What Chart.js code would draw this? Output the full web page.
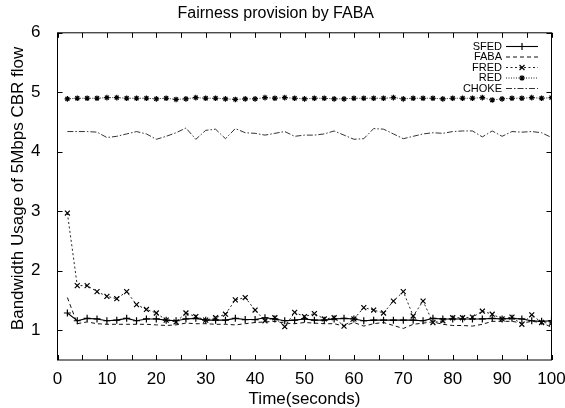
<!DOCTYPE html>
<html>
<head>
<meta charset="utf-8">
<script src="https://cdn.jsdelivr.net/npm/chart.js@4/dist/chart.umd.min.js"></script>
<style>
  html, body { margin: 0; padding: 0; background: #fff; }
  #wrap { width: 565px; height: 408px; }
</style>
</head>
<body>
<div id="wrap"><canvas id="c" width="565" height="408"></canvas></div>
<script>
// Sample times (seconds)
const times = [2, 4, 6, 8, 10, 12, 14, 16, 18, 20, 22, 24, 26, 28, 30, 32, 34, 36, 38, 40, 42, 44, 46, 48, 50,
               52, 54, 56, 58, 60, 62, 64, 66, 68, 70, 72, 74, 76, 78, 80, 82, 84, 86, 88, 90, 92, 94, 96, 98, 100];

// Bandwidth usage of the 5Mbps CBR flow under each queue discipline
const sfed = [1.29, 1.16, 1.20, 1.19, 1.16, 1.17, 1.20, 1.16, 1.19, 1.19, 1.17, 1.16, 1.19, 1.20, 1.17, 1.17, 1.17, 1.20, 1.18, 1.18, 1.21, 1.19, 1.16, 1.17, 1.19,
              1.17, 1.17, 1.19, 1.20, 1.19, 1.16, 1.17, 1.17, 1.17, 1.17, 1.17, 1.16, 1.20, 1.19, 1.19, 1.19, 1.19, 1.19, 1.20, 1.19, 1.20, 1.19, 1.16, 1.15, 1.16];
const faba = [1.55, 1.11, 1.14, 1.11, 1.10, 1.10, 1.10, 1.10, 1.10, 1.09, 1.08, 1.09, 1.12, 1.11, 1.11, 1.10, 1.10, 1.09, 1.11, 1.13, 1.14, 1.15, 1.12, 1.11, 1.13,
              1.12, 1.11, 1.11, 1.07, 1.13, 1.07, 1.11, 1.13, 1.08, 1.03, 1.10, 1.12, 1.14, 1.10, 1.08, 1.08, 1.07, 1.10, 1.15, 1.15, 1.15, 1.12, 1.15, 1.13, 1.05];
const fred = [2.97, 1.75, 1.75, 1.65, 1.57, 1.53, 1.65, 1.43, 1.35, 1.29, 1.17, 1.14, 1.29, 1.23, 1.17, 1.21, 1.27, 1.51, 1.55, 1.34, 1.16, 1.21, 1.06, 1.30, 1.23,
              1.28, 1.19, 1.21, 1.07, 1.19, 1.38, 1.34, 1.29, 1.49, 1.65, 1.24, 1.49, 1.13, 1.16, 1.21, 1.21, 1.22, 1.32, 1.27, 1.19, 1.22, 1.10, 1.26, 1.13, 1.12];
const red  = [4.89, 4.90, 4.90, 4.90, 4.91, 4.91, 4.90, 4.90, 4.90, 4.89, 4.90, 4.88, 4.89, 4.91, 4.90, 4.90, 4.89, 4.88, 4.89, 4.89, 4.91, 4.90, 4.91, 4.90, 4.89,
              4.90, 4.90, 4.89, 4.89, 4.90, 4.90, 4.90, 4.90, 4.91, 4.89, 4.90, 4.90, 4.90, 4.89, 4.90, 4.90, 4.90, 4.91, 4.87, 4.89, 4.90, 4.90, 4.91, 4.90, 4.91];
const choke = [4.34, 4.34, 4.34, 4.33, 4.24, 4.26, 4.30, 4.34, 4.30, 4.21, 4.26, 4.32, 4.40, 4.21, 4.36, 4.38, 4.22, 4.39, 4.32, 4.31, 4.28, 4.31, 4.34, 4.26, 4.28,
               4.28, 4.30, 4.35, 4.28, 4.21, 4.22, 4.39, 4.38, 4.30, 4.22, 4.26, 4.30, 4.32, 4.31, 4.34, 4.35, 4.35, 4.25, 4.35, 4.26, 4.34, 4.33, 4.34, 4.32, 4.24];

const xTickValues = [0, 10, 20, 30, 40, 50, 60, 70, 80, 90, 100];
const yTickValues = [1, 2, 3, 4, 5, 6];

const FONT = "'Liberation Sans', Arial, Helvetica, sans-serif";

function points(values) {
  return times.map((t, i) => ({ x: t, y: values[i] }));
}

const seriesStyles = [
  { label: 'SFED',  data: sfed,  dash: [],             width: 1.1, pointStyle: 'cross',    radius: 3.5, color: '#000' },
  { label: 'FABA',  data: faba,  dash: [4, 3],         width: 1,   pointStyle: false,      radius: 0,   color: '#111' },
  { label: 'FRED',  data: fred,  dash: [2, 2.5],       width: 1,   pointStyle: 'crossRot', radius: 3.5, color: '#222' },
  { label: 'RED',   data: red,   dash: [1, 1.5],       width: 1,   pointStyle: 'star',     radius: 2.8, color: '#222' },
  { label: 'CHOKE', data: choke, dash: [6, 2, 1.5, 2], width: 1,   pointStyle: false,      radius: 0,   color: '#333' }
];

const datasets = seriesStyles.map(s => ({
  label: s.label,
  data: points(s.data),
  borderColor: s.color,
  backgroundColor: s.color,
  borderWidth: s.width,
  borderDash: s.dash,
  pointStyle: s.pointStyle,
  pointRadius: s.radius,
  pointBorderWidth: 1.2,
  pointBorderColor: '#000',
  pointBackgroundColor: '#000',
  tension: 0,
  fill: false
}));

// Frame with inward tick marks on all four sides
const framePlugin = {
  id: 'frame',
  beforeDatasetsDraw(chart) {
    const { ctx, chartArea: a, scales } = chart;
    ctx.save();
    ctx.strokeStyle = '#000';
    ctx.lineWidth = 1;
    ctx.strokeRect(a.left, a.top, a.right - a.left, a.bottom - a.top);
    ctx.beginPath();
    for (let v = 0; v <= 100; v += 5) {
      const x = Math.round(scales.x.getPixelForValue(v)) + 0.5;
      ctx.moveTo(x, a.bottom); ctx.lineTo(x, a.bottom - 5);
      ctx.moveTo(x, a.top);    ctx.lineTo(x, a.top + 5);
    }
    yTickValues.forEach(v => {
      const y = Math.round(scales.y.getPixelForValue(v)) + 0.5;
      ctx.moveTo(a.left, y);  ctx.lineTo(a.left + 5, y);
      ctx.moveTo(a.right, y); ctx.lineTo(a.right - 5, y);
    });
    ctx.stroke();
    ctx.restore();
  }
};

// Axis titles
const axisTitlePlugin = {
  id: 'axisTitles',
  afterDraw(chart) {
    const { ctx, chartArea: a } = chart;
    ctx.save();
    ctx.fillStyle = '#000';
    ctx.font = '17px ' + FONT;
    ctx.textAlign = 'center';
    ctx.textBaseline = 'middle';
    ctx.fillText('Time(seconds)', (a.left + a.right) / 2, 399);
    ctx.translate(18, (a.top + a.bottom) / 2 - 8);
    ctx.rotate(-Math.PI / 2);
    ctx.fillText('Bandwidth Usage of 5Mbps CBR flow', 0, 0);
    ctx.restore();
  }
};

// Key in the upper right corner: label, then a line sample with its marker
const keyPlugin = {
  id: 'key',
  afterDraw(chart) {
    const { ctx } = chart;
    const textRight = 502, x0 = 506, x1 = 538;
    const rowY = [46, 56.5, 67, 77.5, 88];
    ctx.save();
    ctx.font = '11px ' + FONT;
    ctx.textAlign = 'right';
    ctx.textBaseline = 'middle';
    chart.data.datasets.forEach((ds, i) => {
      const y = rowY[i];
      ctx.fillStyle = '#000';
      ctx.fillText(ds.label, textRight, y + 0.5);
      ctx.strokeStyle = ds.borderColor;
      ctx.lineWidth = ds.borderWidth;
      ctx.setLineDash(ds.borderDash);
      ctx.beginPath();
      ctx.moveTo(x0, y + 0.5);
      ctx.lineTo(x1, y + 0.5);
      ctx.stroke();
      ctx.setLineDash([]);
      if (ds.pointStyle) {
        ctx.strokeStyle = '#000';
        ctx.fillStyle = '#000';
        ctx.lineWidth = ds.pointBorderWidth;
        Chart.helpers.drawPoint(ctx, { pointStyle: ds.pointStyle, radius: ds.pointRadius, rotation: 0, borderWidth: ds.pointBorderWidth }, (x0 + x1) / 2, y + 0.5);
      }
    });
    ctx.restore();
  }
};

new Chart(document.getElementById('c'), {
  type: 'line',
  data: { datasets },
  options: {
    responsive: false,
    animation: false,
    devicePixelRatio: 1,
    layout: { padding: { left: 0, right: 13.5, top: 0, bottom: 0 } },
    plugins: {
      legend: { display: false },
      tooltip: { enabled: false },
      title: {
        display: true,
        text: 'Fairness provision by FABA',
        color: '#000',
        font: { family: FONT, size: 16, weight: 'normal', lineHeight: 1.2 },
        padding: { top: 3.5, bottom: 10.1 }
      }
    },
    scales: {
      x: {
        type: 'linear',
        min: 0,
        max: 100,
        grid: { display: false },
        border: { display: false },
        afterBuildTicks: s => { s.ticks = xTickValues.map(v => ({ value: v })); },
        ticks: { color: '#000', font: { family: FONT, size: 17 }, padding: 1, maxRotation: 0, autoSkip: false },
        afterFit: s => { s.height = 48; s.paddingLeft = 0; s.paddingRight = 0; }
      },
      y: {
        type: 'linear',
        min: 0.5,
        max: 6,
        grid: { display: false },
        border: { display: false },
        afterBuildTicks: s => { s.ticks = yTickValues.map(v => ({ value: v })); },
        ticks: { color: '#000', font: { family: FONT, size: 17 }, padding: 9 },
        afterFit: s => { s.width = 57.5; s.paddingTop = 0; s.paddingBottom = 0; }
      }
    }
  },
  plugins: [framePlugin, axisTitlePlugin, keyPlugin]
});
</script>
</body>
</html>
